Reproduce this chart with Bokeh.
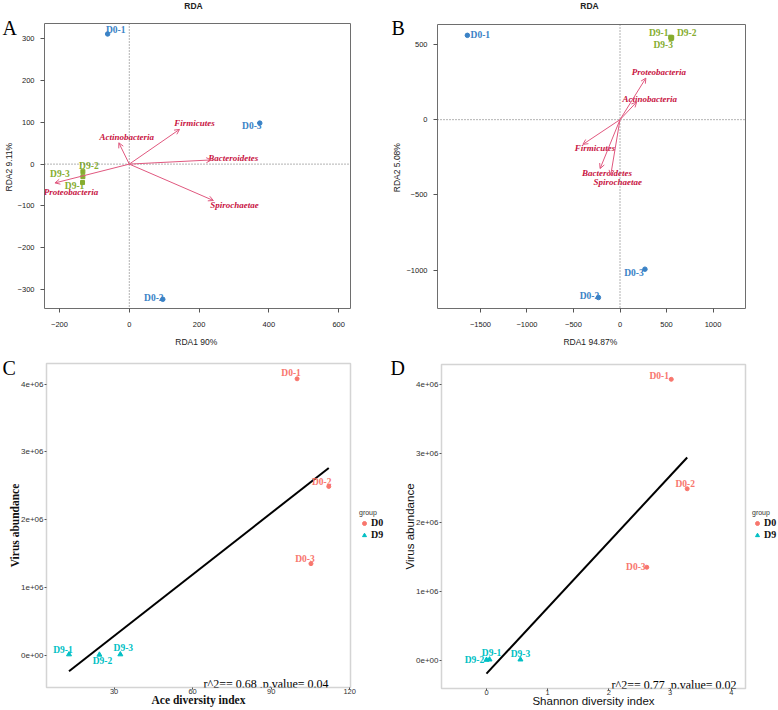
import numpy as np
from bokeh.plotting import figure
from bokeh.models import (ColumnDataSource, Arrow, OpenHead, Span, Label, FixedTicker,
                          Legend, LegendItem, Range1d, GridBox, Plot)
from bokeh.core.properties import value
from bokeh.embed import file_html
from bokeh.resources import INLINE

# ---------------- data ----------------
site_names = ["D0-1", "D0-2", "D0-3", "D9-1", "D9-2", "D9-3"]
site_groups = ["D0", "D0", "D0", "D9", "D9", "D9"]

# Panel A: RDA (RDA1 90%, RDA2 9.11%)
a_site_rda1 = [-62, 96, 374, -134, -133, -133]
a_site_rda2 = [311, -323, 98, -44, -18, -30]
a_species = ["Firmicutes", "Actinobacteria", "Bacteroidetes", "Spirochaetae", "Proteobacteria"]
a_sp_rda1 = [144, -30, 235, 241, -213]
a_sp_rda2 = [83, 51, 10, -87, -45]
a_x_ticks = [-200, 0, 200, 400, 600]
a_y_ticks = [-300, -200, -100, 0, 100, 200, 300]

# Panel B: RDA (RDA1 94.87%, RDA2 5.08%)
b_site_rda1 = [-1641, -232, 268, 545, 556, 550]
b_site_rda2 = [560, -1181, -993, 548, 545, 538]
b_species = ["Proteobacteria", "Actinobacteria", "Firmicutes", "Bacteroidetes", "Spirochaetae"]
b_sp_rda1 = [278, 179, -399, -214, -100]
b_sp_rda2 = [276, 117, -164, -325, -369]
b_x_ticks = [-1500, -1000, -500, 0, 500, 1000]
b_y_ticks = [-1000, -500, 0, 500]

# Panels C and D: virus abundance vs diversity
virus_abundance = [4.08e6, 2.49e6, 1.35e6, 0.01e6, 0.005e6, 0.01e6]
ace_index = [99.9, 112.0, 105.2, 12.8, 24.4, 32.4]
shannon_index = [3.02, 3.28, 2.62, 0.05, 0.0, 0.555]
c_x_ticks = [30, 60, 90, 120]
d_x_ticks = [0, 1, 2, 3, 4]
cd_y_ticks = [0, 1e6, 2e6, 3e6, 4e6]
cd_y_tick_labels = ["0e+00", "1e+06", "2e+06", "3e+06", "4e+06"]
c_stat_text = "r^2== 0.68 ,p.value= 0.04"
d_stat_text = "r^2== 0.77 ,p.value= 0.02"
groups = ["D0", "D9"]

# ---------------- styles ----------------
SERIF = "Liberation Serif"
SANS = "Liberation Sans"
BLUE = "#3a82c6"
GREEN = "#86ad2f"
ARROW_C = "#e0587f"
CRIMSON = "#c8133f"
RED = "#f8766d"
TEAL = "#00bfc4"

# label pixel offsets (screen px, y down)
a_site_off = [(8, -4), (-9, -1), (-8, 3), (-8, 3), (6, -6), (-23, -3)]
a_sp_off = [(15, -6), (8, -6), (22, -2), (21, 4), (16, 9)]
b_site_off = [(13, 0), (-9, -2), (-11, 4), (-12, -4), (15, -5), (-8, 6)]
b_sp_off = [(13, -6), (13, -3), (12, 4), (7, 4), (7, 7)]
c_site_off = [(-6, -6), (-7, -4), (-6, -5), (-6, -4), (3, 6), (3, -6)]
d_site_off = [(-12, -3), (-2, -5), (-11, 0), (2, -7), (-12, 0), (0, -6)]

HAS_FRAME_ALIGN = "frame_align" in Plot.properties()


def no_align(p):
    if HAS_FRAME_ALIGN:
        p.frame_align = False


def idx(group):
    return [i for i, g in enumerate(site_groups) if g == group]


def rda_panel(width, height, xr, yr, xt, yt, borders, xlabel, ylabel,
              sx, sy, s_off, species, spx, spy, sp_off):
    bl, br, bt, bb = borders
    p = figure(width=width, height=height, x_range=Range1d(*xr), y_range=Range1d(*yr),
               output_backend="svg", toolbar_location=None,
               min_border_left=bl, min_border_right=br, min_border_top=bt, min_border_bottom=bb)
    no_align(p)
    p.grid.visible = False
    p.outline_line_color = "#6e6e6e"
    p.outline_line_width = 1
    for ax in (p.xaxis[0], p.yaxis[0]):
        ax.major_tick_out = 4
        ax.major_tick_in = 0
        ax.minor_tick_out = 0
        ax.minor_tick_in = 0
        ax.major_tick_line_color = "#555555"
        ax.axis_line_color = None
        ax.major_label_text_font = SANS
        ax.major_label_text_font_size = "7.5px"
        ax.major_label_text_color = "#222222"
        ax.axis_label_text_font = SANS
        ax.axis_label_text_font_size = "8.5px"
        ax.axis_label_text_font_style = "normal"
        ax.axis_label_text_color = "#222222"
    p.xaxis.ticker = FixedTicker(ticks=xt)
    p.yaxis.ticker = FixedTicker(ticks=yt)
    p.xaxis.major_label_standoff = 9
    p.xaxis.axis_label_standoff = 7
    p.yaxis.major_label_standoff = 6
    p.yaxis.axis_label_standoff = 1
    p.xaxis.axis_label = xlabel
    p.yaxis.axis_label = ylabel

    p.add_layout(Span(location=0, dimension="height", line_color="#666666",
                      line_dash="1 2", line_width=1))
    p.add_layout(Span(location=0, dimension="width", line_color="#666666",
                      line_dash="1 2", line_width=1))

    n = len(species)
    src = ColumnDataSource(dict(x0=[0] * n, y0=[0] * n, x1=spx, y1=spy))
    p.add_layout(Arrow(end=OpenHead(size=5, line_color=ARROW_C, line_width=1),
                       x_start="x0", y_start="y0", x_end="x1", y_end="y1",
                       source=src, line_color=ARROW_C, line_width=1))
    p.text(x=spx, y=spy, text=species,
           x_offset=[o[0] for o in sp_off], y_offset=[o[1] for o in sp_off],
           text_font=value(SERIF), text_font_style="bold italic", text_font_size="9px",
           text_color=CRIMSON, text_align="center", text_baseline="middle")

    for grp, marker, col, sz in (("D0", "circle", BLUE, 4.5), ("D9", "square", GREEN, 4)):
        ii = idx(grp)
        p.scatter([sx[i] for i in ii], [sy[i] for i in ii], marker=marker, size=sz,
                  fill_color=col, line_color=col)
        p.text(x=[sx[i] for i in ii], y=[sy[i] for i in ii], text=[site_names[i] for i in ii],
               x_offset=[s_off[i][0] for i in ii], y_offset=[s_off[i][1] for i in ii],
               text_font=value(SERIF), text_font_style="bold", text_font_size="9.5px",
               text_color=col, text_align="center", text_baseline="middle")
    return p


def reg_panel(width, height, xr, yr, xt, borders, xvals, xlabel, label_font, label_style,
              label_size, s_off, stat_text, stat_right):
    bl, br, bt, bb = borders
    p = figure(width=width, height=height, x_range=Range1d(*xr), y_range=Range1d(*yr),
               output_backend="svg", toolbar_location=None,
               min_border_left=bl, min_border_right=br, min_border_top=bt, min_border_bottom=bb)
    no_align(p)
    p.grid.visible = False
    p.outline_line_color = "#d4d4d4"
    p.outline_line_width = 1.5
    for ax in (p.xaxis[0], p.yaxis[0]):
        ax.major_tick_out = 2
        ax.major_tick_in = 0
        ax.minor_tick_out = 0
        ax.minor_tick_in = 0
        ax.major_tick_line_color = "#555555"
        ax.axis_line_color = None
        ax.major_label_text_font = SANS
        ax.major_label_text_color = "#333333"
        ax.axis_label_text_font = label_font
        ax.axis_label_text_font_size = label_size
        ax.axis_label_text_font_style = label_style
        ax.axis_label_text_color = "#111111"
    p.xaxis.major_label_text_font_size = "7.5px"
    p.yaxis.major_label_text_font_size = "8px"
    p.xaxis.ticker = FixedTicker(ticks=xt)
    p.yaxis.ticker = FixedTicker(ticks=cd_y_ticks)
    p.yaxis.major_label_overrides = {t: l for t, l in zip(cd_y_ticks, cd_y_tick_labels)}
    p.xaxis.major_label_standoff = -1
    p.xaxis.axis_label_standoff = -3
    p.yaxis.major_label_standoff = 1
    p.yaxis.axis_label_standoff = -3
    p.xaxis.axis_label = xlabel
    p.yaxis.axis_label = "Virus abundance"

    slope, intercept = np.polyfit(xvals, virus_abundance, 1)
    xs = np.array([min(xvals), max(xvals)])
    p.line(xs, slope * xs + intercept, line_color="black", line_width=2)

    for grp, marker, col, sz in (("D0", "circle", RED, 4), ("D9", "triangle", TEAL, 5)):
        ii = idx(grp)
        p.scatter([xvals[i] for i in ii], [virus_abundance[i] for i in ii],
                  marker=marker, size=sz, fill_color=col, line_color=col)
        p.text(x=[xvals[i] for i in ii], y=[virus_abundance[i] for i in ii],
               text=[site_names[i] for i in ii],
               x_offset=[s_off[i][0] for i in ii], y_offset=[s_off[i][1] for i in ii],
               text_font=value(SERIF), text_font_style="bold", text_font_size="9.5px",
               text_color=col, text_align="center", text_baseline="middle")

    fw = width - bl - br
    p.add_layout(Label(x=fw - stat_right, y=4, x_units="screen", y_units="screen",
                       text=stat_text, text_font=SERIF, text_font_size="12px",
                       text_color="black", text_align="right", text_baseline="alphabetic"))
    return p


pA = rda_panel(389, 349, (-243, 634), (-345, 336), a_x_ticks, a_y_ticks, (42, 39, 23, 39),
               "RDA1  90%", "RDA2  9.11%", a_site_rda1, a_site_rda2, a_site_off,
               a_species, a_sp_rda1, a_sp_rda2, a_sp_off)
pB = rda_panel(389, 349, (-1962, 1349), (-1254, 632), b_x_ticks, b_y_ticks, (46, 33, 24, 40),
               "RDA1  94.87%", "RDA2  5.08%", b_site_rda1, b_site_rda2, b_site_off,
               b_species, b_sp_rda1, b_sp_rda2, b_sp_off)
pC = reg_panel(389, 361, (4.2, 120.3), (-0.479e6, 4.306e6), c_x_ticks, (46, 39, 14, 23),
               ace_index, "Ace diversity index", SERIF, "bold", "11.5px", c_site_off,
               c_stat_text, 22)
pD = reg_panel(389, 361, (-0.735, 4.233), (-0.411e6, 4.295e6), d_x_ticks, (52, 33, 15, 22),
               shannon_index, "Shannon diversity index", SANS, "normal", "11.5px",
               d_site_off, d_stat_text, 9)

# ---- transparent overlay carrying panel letters, titles and group legends ----
ov = figure(width=778, height=710, x_range=Range1d(0, 778), y_range=Range1d(710, 0),
            output_backend="svg", toolbar_location=None, x_axis_type=None, y_axis_type=None,
            min_border=0, min_border_left=0, min_border_right=0, min_border_top=0,
            min_border_bottom=0)
no_align(ov)
ov.grid.visible = False
ov.outline_line_color = None
ov.background_fill_color = None
ov.border_fill_color = None

for txt, x, y in (("RDA", 193, 5.5), ("RDA", 589, 5.5)):
    ov.add_layout(Label(x=x, y=y, text=txt, text_font=SANS, text_font_size="8.5px",
                        text_font_style="bold", text_color="#222222",
                        text_align="center", text_baseline="middle"))
for txt, x, y in (("A", 2, 27), ("B", 391, 27), ("C", 2, 367), ("D", 390, 367)):
    ov.add_layout(Label(x=x, y=y, text=txt, text_font=SERIF, text_font_size="20px",
                        text_color="black", text_align="left", text_baseline="alphabetic"))

# legend key proxies: a single NaN point each (never drawn), only styles the legend keys
nan = float("nan")
for lx in (359, 752):
    r0 = ov.scatter(x=[nan], y=[nan], marker="circle", size=4, fill_color=RED, line_color=RED)
    r9 = ov.scatter(x=[nan], y=[nan], marker="triangle", size=5, fill_color=TEAL,
                    line_color=TEAL)
    leg = Legend(items=[LegendItem(label=groups[0], renderers=[r0]),
                        LegendItem(label=groups[1], renderers=[r9])],
                 location=(lx, 170), title="group",
                 title_text_font=SANS, title_text_font_size="7px",
                 title_text_font_style="normal", title_text_color="#333333",
                 title_standoff=1,
                 label_text_font=SERIF, label_text_font_style="bold",
                 label_text_font_size="10px", label_text_color="#111111",
                 glyph_width=10, glyph_height=10, label_standoff=2, spacing=1, padding=0,
                 margin=0, background_fill_alpha=0, border_line_color=None,
                 label_height=10, label_width=10)
    ov.add_layout(leg)

layout = GridBox(children=[(pA, 0, 0), (pB, 0, 1), (pC, 1, 0), (pD, 1, 1), (ov, 0, 0, 2, 2)])
open("out.html", "w").write(file_html(layout, INLINE))
